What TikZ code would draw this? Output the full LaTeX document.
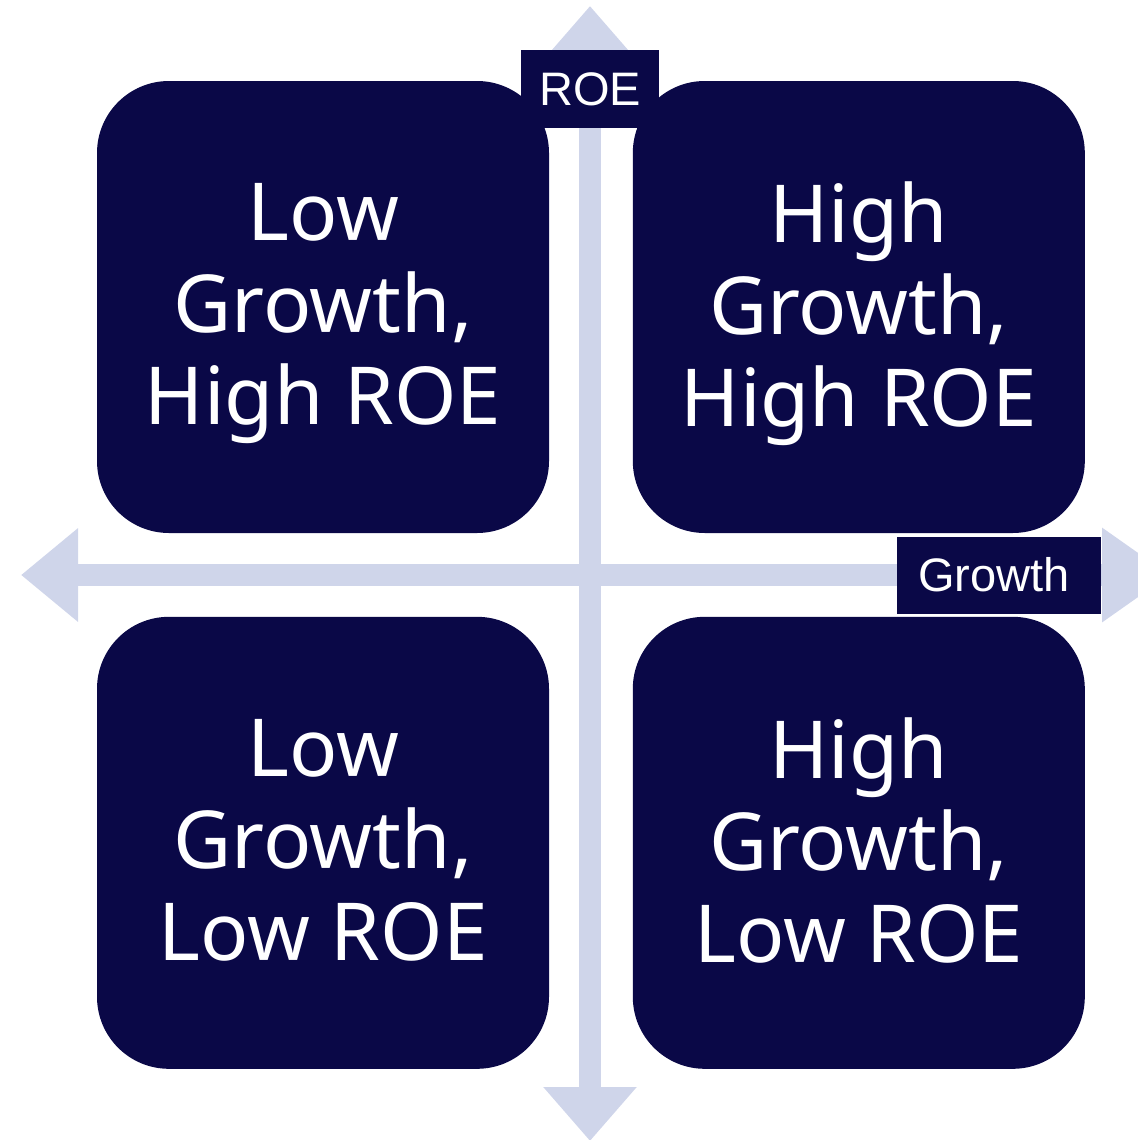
\documentclass[tikz,border=0pt]{standalone}
\usepackage{fontspec}
\setmainfont{Noto Sans}
\newfontfamily\axisfont{Liberation Sans}
\usetikzlibrary{positioning, arrows.meta}
\definecolor{navy}{RGB}{10,8,71}
\definecolor{axisblue}{RGB}{207,213,234}
\tikzset{node distance=41.5pt,
	quadrant/.style={fill=navy, text=white, rounded corners=36pt, minimum width=226pt, minimum height=226pt, inner sep=0pt, align=center, text depth=3pt, font=\fontsize{40}{46}\selectfont},
	axislabel/.style={fill=navy, text=white, inner sep=0pt, font=\axisfont\fontsize{23.5}{23.5}\selectfont},
	axisline/.style={draw=axisblue, line width=11pt}}

\begin{document}
\begin{tikzpicture}[x=0.5pt, y=-0.5pt]
    \useasboundingbox (0,0) rectangle (1138,1140);
    \coordinate (roetop) at (590,6);
    \coordinate (roebottom) at (590,1141);
    \coordinate (growthleft) at (21,575);
    \coordinate (growthright) at (1170,575);
    \draw[axisline, {Triangle[width=45pt,length=27pt]}-{Triangle[width=45pt,length=27pt]}] (roebottom) -- (roetop);
    \draw[axisline, {Triangle[width=45pt,length=28.5pt]}-{Triangle[width=45pt,length=34pt]}] (growthleft) -- (growthright);
    \node[quadrant] (lowhigh) at (323,307) {Low\\Growth,\\High ROE};
    \node[quadrant, right=of lowhigh] (highhigh) {High\\Growth,\\High ROE};
    \node[quadrant, below=of lowhigh] (lowlow) {Low\\Growth,\\Low ROE};
    \node[quadrant, right=of lowlow] (highlow) {High\\Growth,\\Low ROE};
    \node[axislabel, minimum width=69pt, minimum height=39pt] (roe) at (590,89) {ROE};
    \node[axislabel, minimum width=102pt, minimum height=38.5pt, text width=81pt] (growth) at (999,575) {Growth};
\end{tikzpicture}
\end{document}
